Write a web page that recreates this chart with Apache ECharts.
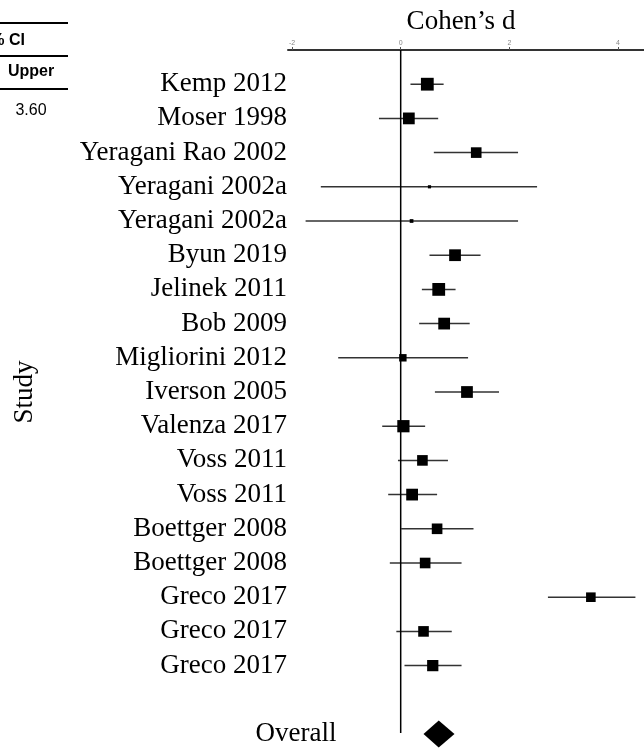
<!DOCTYPE html>
<html><head><meta charset="utf-8">
<script src="https://cdn.jsdelivr.net/npm/echarts@6/dist/echarts.min.js"></script>
<style>html,body{margin:0;padding:0;background:#fff}#c{width:644px;height:749px}</style>
</head><body><div id="c"></div>
<script>
const studies = ['Kemp 2012','Moser 1998','Yeragani Rao 2002','Yeragani 2002a','Yeragani 2002a','Byun 2019','Jelinek 2011','Bob 2009','Migliorini 2012','Iverson 2005','Valenza 2017','Voss 2011','Voss 2011','Boettger 2008','Boettger 2008','Greco 2017','Greco 2017','Greco 2017'];
const estimates = [0.49, 0.15, 1.39, 0.53, 0.20, 1.00, 0.70, 0.80, 0.04, 1.22, 0.05, 0.40, 0.21, 0.67, 0.45, 3.50, 0.42, 0.59];
const lowerCI   = [0.18, -0.40, 0.61, -1.47, -1.75, 0.53, 0.39, 0.34, -1.15, 0.63, -0.34, -0.05, -0.23, 0.01, -0.20, 2.71, -0.08, 0.07];
const upperCI   = [0.79, 0.69, 2.16, 2.51, 2.16, 1.47, 1.01, 1.27, 1.24, 1.81, 0.45, 0.87, 0.67, 1.34, 1.12, 4.32, 0.94, 1.12];
const weights   = [7.1, 6.0, 4.9, 0.44, 0.6, 6.0, 7.1, 6.0, 2.4, 6.0, 6.5, 4.9, 6.0, 4.9, 4.9, 4.0, 4.9, 5.5];
const overallName = 'Overall';
const overallEst = 0.70, overallLower = 0.42, overallUpper = 0.99;
const xTicks = [-2, 0, 2, 4];
const xTitle = 'Cohen\u2019s d';
const tableHeader = '95% CI';
const tableSub = 'Upper';
const tableValue = '3.60';

const rowNames = studies.concat(['', overallName]);
const overallRow = rowNames.length - 1;
const studyData = studies.map((s, i) => [i, lowerCI[i], estimates[i], upperCI[i], weights[i]]);

const serif = 'Liberation Serif, Times New Roman, serif';
const sans = 'Liberation Sans, Arial, sans-serif';

const chart = echarts.init(document.getElementById('c'), null, {renderer: 'canvas'});
chart.setOption({
  backgroundColor: '#fff',
  animation: false,
  title: {
    text: xTitle, left: 461, top: 8, textAlign: 'center', padding: 0,
    textStyle: {fontFamily: serif, fontSize: 27, fontWeight: 'normal', color: '#000'}
  },
  grid: {left: 288, right: 0, top: 50, bottom: 15, containLabel: false, outerBoundsMode: 'none'},
  xAxis: {
    type: 'value', position: 'top', min: -2.074, max: 4.478,
    axisLine: {show: true, onZero: false, lineStyle: {color: '#333', width: 2}},
    axisTick: {show: true, customValues: xTicks, length: 3, lineStyle: {color: '#555', width: 1}},
    axisLabel: {customValues: xTicks, fontSize: 7, color: '#888', margin: 3, fontFamily: sans},
    splitLine: {show: false}
  },
  yAxis: {
    type: 'value', inverse: true, min: -1, max: 19, interval: 1,
    name: 'Study', nameLocation: 'middle', nameGap: 250, nameRotate: 90, nameMoveOverlap: false,
    nameTextStyle: {fontFamily: serif, fontSize: 27, color: '#000'},
    axisLine: {show: false}, axisTick: {show: false}, splitLine: {show: false},
    axisLabel: {
      margin: 1, fontFamily: serif, fontSize: 27, color: '#000',
      formatter: v => (v >= 0 && v < studies.length) ? rowNames[v] : ''
    }
  },
  series: [
    {
      type: 'line', data: [[0, -1], [0, 18.97]], showSymbol: false, silent: true,
      lineStyle: {color: '#000', width: 1.5}
    },
    {
      type: 'custom', data: studyData, encode: {x: [1, 2, 3], y: 0}, silent: true,
      renderItem(params, api) {
        const i = api.value(0);
        const pLo = api.coord([api.value(1), i]);
        const pHi = api.coord([api.value(3), i]);
        const pE = api.coord([api.value(2), i]);
        const s = Math.sqrt(api.value(4)) * 4.8;
        return {type: 'group', children: [
          {type: 'line', shape: {x1: pLo[0], y1: pLo[1], x2: pHi[0], y2: pHi[1]}, style: {stroke: '#333', lineWidth: 1.5}},
          {type: 'rect', shape: {x: pE[0] - s / 2, y: pE[1] - s / 2, width: s, height: s}, style: {fill: '#000'}}
        ]};
      }
    },
    {
      type: 'custom', data: [[overallRow, overallLower, overallEst, overallUpper]], encode: {x: [1, 2, 3], y: 0}, silent: true,
      renderItem(params, api) {
        const i = api.value(0);
        const pLo = api.coord([api.value(1), i]);
        const pHi = api.coord([api.value(3), i]);
        const pE = api.coord([api.value(2), i]);
        const h = 13.5;
        return {type: 'group', children: [
          {type: 'polygon', shape: {points: [[pLo[0], pE[1]], [pE[0], pE[1] - h], [pHi[0], pE[1]], [pE[0], pE[1] + h]]}, style: {fill: '#000'}},
          {type: 'text', x: pLo[0] - 87, y: pE[1], style: {text: overallName, fill: '#000', font: '27px ' + serif, align: 'right', verticalAlign: 'middle'}}
        ]};
      }
    }
  ],
  graphic: [
    {type: 'line', shape: {x1: 0, y1: 23, x2: 68, y2: 23}, style: {stroke: '#000', lineWidth: 2}},
    {type: 'line', shape: {x1: 0, y1: 56, x2: 68, y2: 56}, style: {stroke: '#000', lineWidth: 2}},
    {type: 'line', shape: {x1: 0, y1: 89, x2: 68, y2: 89}, style: {stroke: '#000', lineWidth: 2}},
    {type: 'text', x: 25, y: 41, style: {text: tableHeader, fill: '#000', font: 'bold 16px ' + sans, align: 'right', verticalAlign: 'middle'}},
    {type: 'text', x: 31, y: 72, style: {text: tableSub, fill: '#000', font: 'bold 16px ' + sans, align: 'center', verticalAlign: 'middle'}},
    {type: 'text', x: 31, y: 111, style: {text: tableValue, fill: '#000', font: '16px ' + sans, align: 'center', verticalAlign: 'middle'}}
  ]
});
</script></body></html>
